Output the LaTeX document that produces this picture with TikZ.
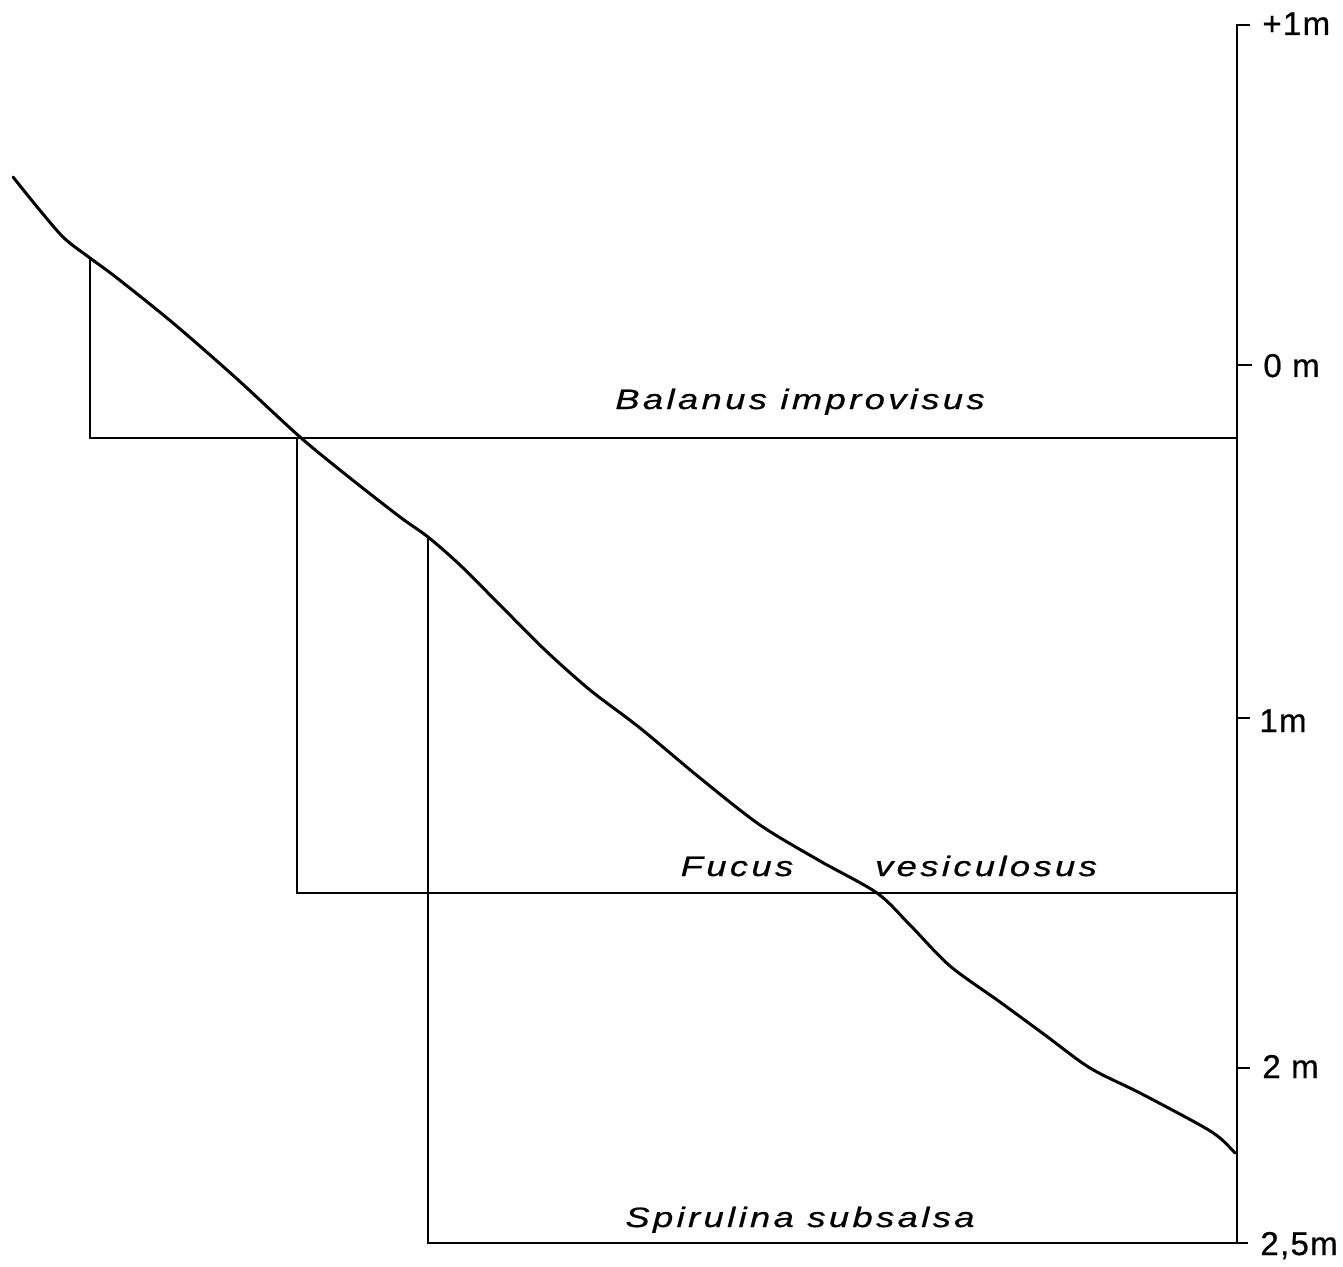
\documentclass[tikz,border=0pt]{standalone}
\usepackage{fontspec}
\setmainfont{Liberation Sans}
\newfontfamily\speciesfont[FakeStretch=1.3,LetterSpace=12,FakeBold=0.6]{Liberation Sans}
\newfontfamily\depthfont[LetterSpace=4,FakeBold=0.6]{Liberation Sans}
\usetikzlibrary{calc}

\begin{document}
\begin{tikzpicture}[x=0.5pt,y=-0.5pt]

\tikzstyle{zone} = [draw=black, line width=1.4pt, line join=miter]
\tikzstyle{shore} = [draw=black, line width=1.5pt, line cap=round]
\tikzstyle{species} = [anchor=base, inner sep=0, font=\speciesfont\itshape\fontsize{14}{16}\selectfont]
\tikzstyle{depth} = [anchor=base west, inner sep=0, font=\depthfont\fontsize{16.5}{18}\selectfont]

\useasboundingbox (0,0) rectangle (1343,1267);

% =========================
% depth scale
% =========================
\coordinate (top) at (1237,25);
\coordinate (bottom) at (1237,1243);
\draw[zone] ($(top)+(13,0)$) -- (top) -- (bottom);

\draw[zone] (1237,365) -- (1252,365);
\draw[zone] (1237,718) -- (1250,718);
\draw[zone] (1237,1068) -- (1250,1068);

\node[depth] (plus1) at (1262,35) {+1m};
\node[depth] (zero) at (1263,377) {0 m};
\node[depth] (one) at (1259,732) {1m};
\node[depth] (two) at (1262,1078) {2 m};
\node[depth] (twohalf) at (1260,1255) {2,5m};

% =========================
% zones
% =========================
\coordinate (bal start) at (90,258);
\coordinate (bal end) at (1237,438);
\draw[zone] (bal start) |- (bal end);

\coordinate (fuc start) at (297,438);
\coordinate (fuc end) at (1237,893);
\draw[zone] (fuc start) |- (fuc end);

\coordinate (spi start) at (428,537);
\coordinate (spi end) at (1248,1243);
\draw[zone] (spi start) |- (spi end);

\node[species] (balanus) at (800,409) {Balanus improvisus};
\node[species] (fucus) at (737,876) {Fucus};
\node[species] (vesic) at (986,876) {vesiculosus};
\node[species] (spirulina) at (800,1227) {Spirulina subsalsa};

% =========================
% shore profile
% =========================
\draw[shore] plot[smooth, tension=0.5] coordinates {
    (13,177) (38,208) (64,238) (90,258) (117,278) (173,323) (236,378)
    (300,437) (350,478) (400,517) (428,537) (460,565) (500,605)
    (545,650) (590,690) (640,728) (700,778) (760,825) (820,861)
    (877,893) (910,925) (950,966) (1000,1002) (1045,1035) (1090,1068)
    (1140,1093) (1200,1125) (1220,1138) (1235,1153)};

\end{tikzpicture}
\end{document}
